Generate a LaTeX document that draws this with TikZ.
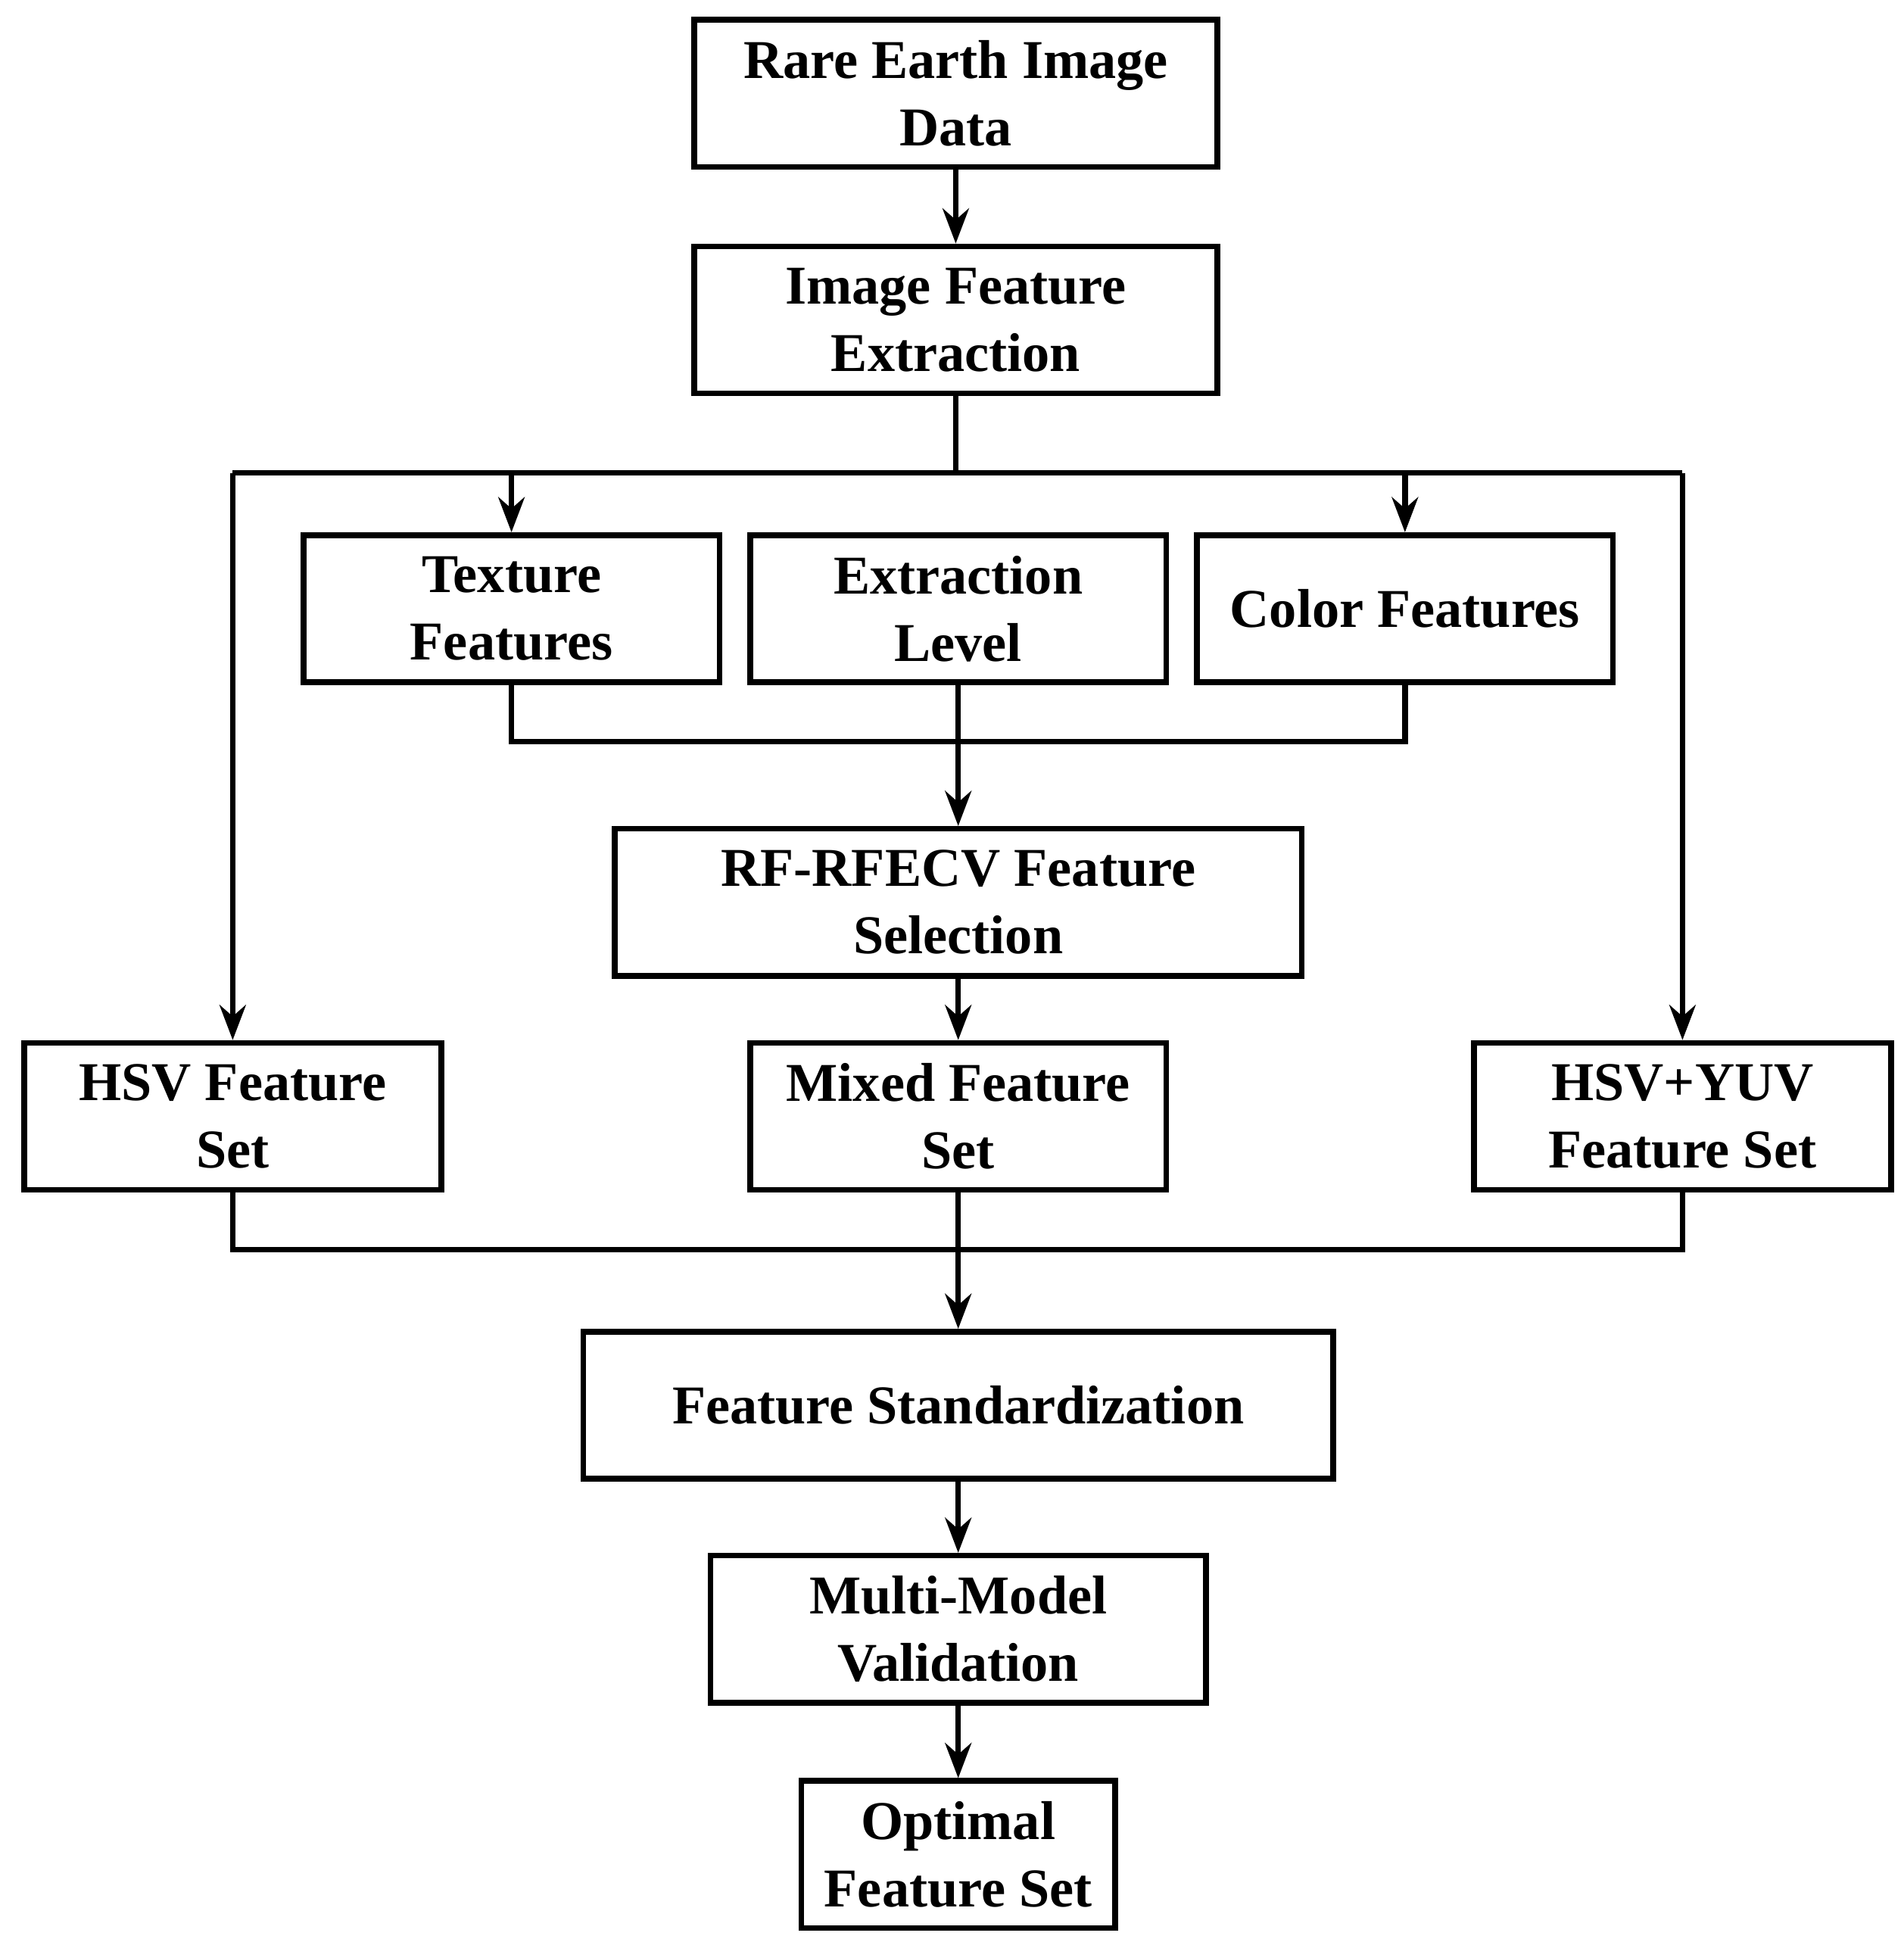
\documentclass[tikz,border=0pt]{standalone}
\usepackage{fontspec}
\setmainfont{Liberation Serif}
\usetikzlibrary{arrows.meta}
\begin{document}
\begin{tikzpicture}[x=0.01cm,y=-0.01cm,
 box/.style={draw,line width=1.3pt,align=center,inner sep=0pt,font=\fontsize{12.5pt}{15.4pt}\selectfont\bfseries},
 arr/.style={line width=1.3pt,-{Stealth[length=8pt,width=6pt]}},
 ln/.style={line width=1.3pt}]
\useasboundingbox (0,0) rectangle (1530,1558);
\node[box,minimum width=420\pgflinewidth,minimum width=4.2cm,minimum height=1.18cm] (a) at (768,75) {Rare Earth Image\\Data};
\node[box,minimum width=4.2cm,minimum height=1.18cm] (b) at (768,257) {Image Feature\\Extraction};
\node[box,minimum width=3.34cm,minimum height=1.18cm] (t) at (411,489) {Texture\\Features};
\node[box,minimum width=3.34cm,minimum height=1.18cm] (e) at (770,489) {Extraction\\Level};
\node[box,minimum width=3.34cm,minimum height=1.18cm] (c) at (1129,489) {Color Features};
\node[box,minimum width=5.52cm,minimum height=1.18cm] (r) at (770,725) {RF-RFECV Feature\\Selection};
\node[box,minimum width=3.35cm,minimum height=1.18cm] (h) at (187,897) {HSV Feature\\Set};
\node[box,minimum width=3.34cm,minimum height=1.18cm] (m) at (770,897) {Mixed Feature\\Set};
\node[box,minimum width=3.35cm,minimum height=1.18cm] (y) at (1352,897) {HSV+YUV\\Feature Set};
\node[box,minimum width=6.02cm,minimum height=1.18cm] (s) at (770,1129) {Feature Standardization};
\node[box,minimum width=3.98cm,minimum height=1.18cm] (v) at (770,1309) {Multi-Model\\Validation};
\node[box,minimum width=2.52cm,minimum height=1.18cm] (o) at (770,1490) {Optimal\\Feature Set};
\coordinate (b1) at (768,380);
\coordinate (b2) at (770,596);
\coordinate (b3) at (770,1004);
\draw[arr] (a) -- (b);
\draw[ln] (b) -- (b1);
\draw[ln] (h.north |- b1) -- (y.north |- b1);
\draw[arr] (h.north |- b1) -- (h.north);
\draw[arr] (y.north |- b1) -- (y.north);
\draw[arr] (t.north |- b1) -- (t.north);
\draw[arr] (c.north |- b1) -- (c.north);
\draw[ln] (t.south) -- (t.south |- b2) -- (c.south |- b2) -- (c.south);
\draw[arr] (e) -- (r);
\draw[arr] (r) -- (m);
\draw[ln] (h.south) -- (h.south |- b3) -- (y.south |- b3) -- (y.south);
\draw[arr] (m) -- (s);
\draw[arr] (s) -- (v);
\draw[arr] (v) -- (o);
\end{tikzpicture}
\end{document}
